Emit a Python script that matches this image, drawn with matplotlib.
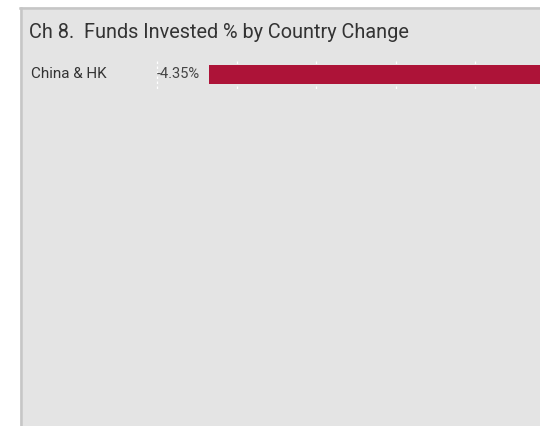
#!/usr/bin/env python3

import matplotlib
matplotlib.use("Agg")
import matplotlib.pyplot as plt
from matplotlib.patches import Rectangle
from matplotlib.lines import Line2D

# chart data
countries = ["China & HK"]
changes = [-4.35]
grid_ticks = [-5, -4, -3, -2, -1]
title = "Ch 8.  Funds Invested % by Country Change"

BAR_COLOR = "#ad1338"
PANEL_BG = "#e4e4e4"
BORDER = "#c6c6c6"
TEXT = "#333333"

W, H, DPI = 540, 426, 100
plt.rcParams["font.family"] = ["Roboto", "DejaVu Sans"]

fig = plt.figure(figsize=(W / DPI, H / DPI), dpi=DPI)
fig.patch.set_facecolor("white")

# grey panel with a border on the left and top
fig.patches.append(Rectangle((20 / W, 0), 1.0, (H - 7) / H, transform=fig.transFigure,
                             facecolor=PANEL_BG, edgecolor="none", zorder=-2))
fig.lines.append(Line2D([21 / W, 21 / W], [0, (H - 8) / H], transform=fig.transFigure,
                        color=BORDER, lw=1.8, zorder=-1))
fig.lines.append(Line2D([20 / W, 1.0], [(H - 8) / H, (H - 8) / H], transform=fig.transFigure,
                        color=BORDER, lw=1.8, zorder=-1))

# axes run past the right edge so the zero line sits off the canvas
ax_left, ax_right = 22, 640
top = 9
unit_px = 79.6
zero_px = 555
ax = fig.add_axes([ax_left / W, 0, (ax_right - ax_left) / W, (H - top) / H])
ax.set_facecolor("none")
ax.set_zorder(1)
ax.set_xlim((ax_left - zero_px) / unit_px, (ax_right - zero_px) / unit_px)

slot_px = 19 / 0.6
row_px = 74.3 - top
ax.set_ylim((H - top - row_px) / slot_px, -row_px / slot_px)

for s in ax.spines.values():
    s.set_visible(False)
ax.set_xticks([])
ax.set_yticks([])

ypos = list(range(len(countries)))
ax.vlines(grid_ticks, [y - 0.42 for y in ypos for _ in grid_ticks],
          [y + 0.46 for y in ypos for _ in grid_ticks],
          colors="white", lw=0.9, linestyles=(0, (2, 2)), zorder=1)
ax.barh(ypos, changes, height=0.6, color=BAR_COLOR, zorder=2)

for y, name, val in zip(ypos, countries, changes):
    ax.text((31 - ax_left) / (ax_right - ax_left), y, name, transform=ax.get_yaxis_transform(),
            ha="left", va="center", fontsize=11, color=TEXT)
    ax.annotate(f"{val:.2f}%", xy=(val, y), xytext=(-6.5, 0), textcoords="offset points",
                ha="right", va="center", fontsize=10.5, color="#444444", zorder=3)

fig.text(29 / W, 1 - 32 / H, title, ha="left", va="center", fontsize=14.3, color=TEXT)

fig.savefig("out.png", dpi=DPI)
